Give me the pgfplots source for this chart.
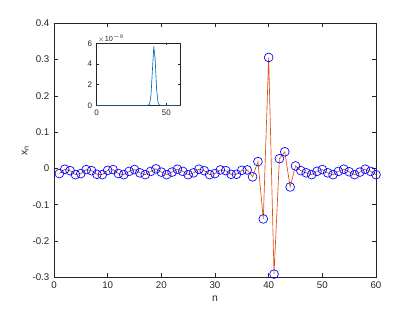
\documentclass[border=0pt]{standalone}
\usepackage{pgfplots}
\pgfplotsset{compat=1.18}
\usepackage{fontspec}
\setmainfont{Liberation Sans}
\definecolor{axgray}{rgb}{0.15,0.15,0.15}
\definecolor{mlblue}{rgb}{0,0.447,0.741}
\definecolor{mlred}{rgb}{0.85,0.325,0.098}
\begin{document}
\begin{tikzpicture}
\useasboundingbox (0pt,0pt) rectangle (311.25pt,234pt);
\pgfplotsset{
  mlstyle/.style={
    scale only axis,
    axis line style={axgray},
    tick style={axgray, line width=0.4pt},
    tick align=inside,
    major tick length=3pt,
    /pgf/number format/assume math mode=true,
    ticklabel style={font=\fontsize{7.3}{8}\selectfont, text=axgray},
    label style={font=\fontsize{7.8}{9}\selectfont, text=axgray},
    every axis plot/.append style={line width=0.5pt},
  }
}
\begin{axis}[mlstyle,
  at={(40.5pt,26pt)}, anchor=south west,
  width=241.5pt, height=190.5pt,
  xmin=0, xmax=60, ymin=-0.3, ymax=0.4,
  xtick={0,10,...,60},
  ytick={-0.3,-0.2,-0.1,0,0.1,0.2,0.3,0.4},
  yticklabel style={/pgf/number format/fixed, /pgf/number format/precision=1},
  xlabel={n}, ylabel={x$_\mathrm{n}$},
  xlabel style={yshift=2pt},
  ylabel style={yshift=-4pt},
]
\addplot[mlred, line width=0.5pt] table {
x y
1 -0.014
2 -0.002
3 -0.006
4 -0.017
5 -0.014
6 -0.003
7 -0.006
8 -0.016
9 -0.017
10 -0.005
11 -0.003
12 -0.014
13 -0.017
14 -0.008
15 -0.003
16 -0.012
17 -0.017
18 -0.008
19 -0.001
20 -0.010
21 -0.017
22 -0.010
23 -0.002
24 -0.008
25 -0.017
26 -0.012
27 -0.002
28 -0.006
29 -0.017
30 -0.014
31 -0.004
32 -0.006
33 -0.016
34 -0.016
35 -0.005
36 -0.004
37 -0.023
38 0.019
39 -0.139
40 0.306
41 -0.291
42 0.027
43 0.046
44 -0.051
45 0.007
46 -0.006
47 -0.012
48 -0.017
49 -0.008
50 -0.003
51 -0.012
52 -0.017
53 -0.008
54 -0.002
55 -0.009
56 -0.017
57 -0.010
58 -0.002
59 -0.008
60 -0.017
};
\addplot[only marks, mark=o, mark size=3.3pt, mark options={blue, line width=0.5pt}] table {
x y
1 -0.014
2 -0.002
3 -0.006
4 -0.017
5 -0.014
6 -0.003
7 -0.006
8 -0.016
9 -0.017
10 -0.005
11 -0.003
12 -0.014
13 -0.017
14 -0.008
15 -0.003
16 -0.012
17 -0.017
18 -0.008
19 -0.001
20 -0.010
21 -0.017
22 -0.010
23 -0.002
24 -0.008
25 -0.017
26 -0.012
27 -0.002
28 -0.006
29 -0.017
30 -0.014
31 -0.004
32 -0.006
33 -0.016
34 -0.016
35 -0.005
36 -0.004
37 -0.023
38 0.019
39 -0.139
40 0.306
41 -0.291
42 0.027
43 0.046
44 -0.051
45 0.007
46 -0.006
47 -0.012
48 -0.017
49 -0.008
50 -0.003
51 -0.012
52 -0.017
53 -0.008
54 -0.002
55 -0.009
56 -0.017
57 -0.010
58 -0.002
59 -0.008
60 -0.017
};
\end{axis}
\begin{axis}[mlstyle,
  at={(72.5pt,155pt)}, anchor=south west,
  width=62.7pt, height=46.5pt,
  xmin=0, xmax=60, ymin=0, ymax=6,
  xtick={0,50}, ytick={0,2,4,6},
  major tick length=1.5pt,
  axis background/.style={fill=white},
  ticklabel style={font=\fontsize{6}{7}\selectfont},
  clip=false,
]
\node[anchor=south west, font=\fontsize{5.5}{6}\selectfont, text=axgray, inner sep=0.5pt] at (rel axis cs:0,1) {$\times$10$^{\mathrm{-9}}$};
\addplot[mlblue, line width=0.5pt] table {
x y
0 0
10 0
20 0
30 0
36 0
37 0.01
38 0.12
39 1.0
40 3.4
41 5.7
42 4.4
43 1.6
44 0.3
45 0.03
46 0
50 0
60 0
};
\end{axis}
\end{tikzpicture}
\end{document}
